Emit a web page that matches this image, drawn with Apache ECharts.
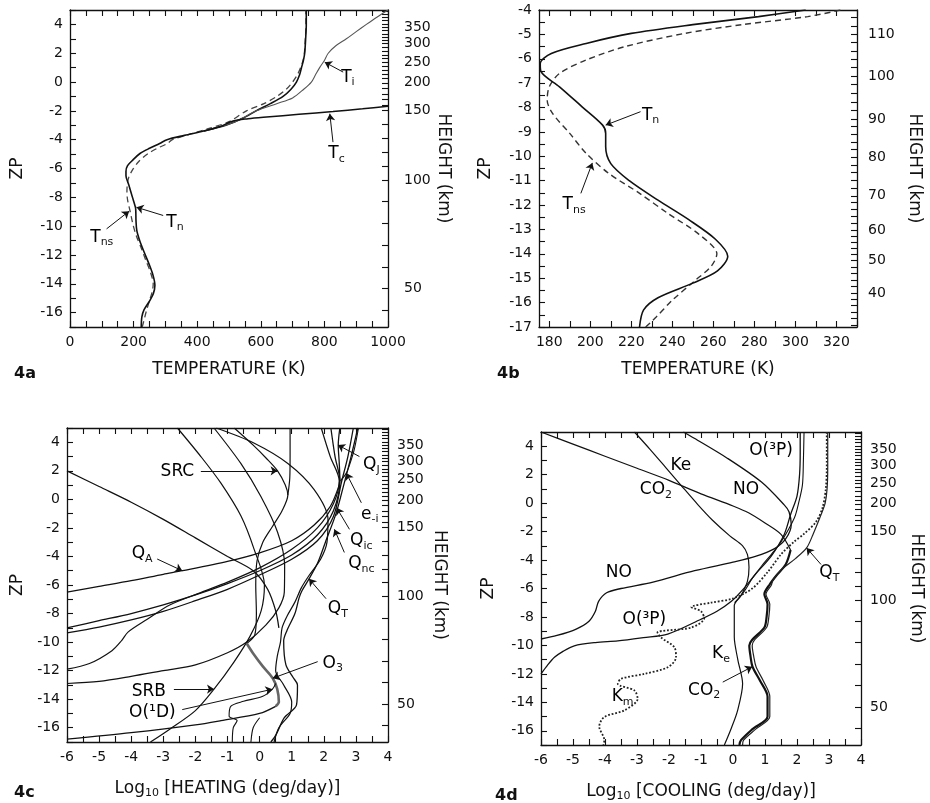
<!DOCTYPE html>
<html>
<head>
<meta charset="utf-8">
<script src="https://cdn.jsdelivr.net/npm/echarts@6/dist/echarts.min.js"></script>
<style>html,body{margin:0;background:#fff}#container{width:930px;height:803px}</style>
</head>
<body>
<div id="container"></div>
<script>
var myChart = echarts.init(document.getElementById('container'));

var INK = '#111';
var FONT = 'DejaVu Sans, Liberation Sans, sans-serif';

// height (km) tick labels of the right axes and their ZP position
var heightLabels = [50, 100, 150, 200, 250, 300, 350];
var heightZp = [-14.33, -6.8, -1.97, -0.05, 1.37, 2.66, 3.8];
var heightLabelsB = [40, 50, 60, 70, 80, 90, 100, 110];
var heightZpB = [-15.6, -14.28, -13.02, -11.62, -10.04, -8.47, -6.71, -5.0];

// 4a : temperature (K) vs ZP
var tn4a = [[224,-17],[226,-16.3],[233,-15.8],[250,-15.2],[262,-14.7],[267,-14.1],[261,-13.4],[248,-12.6],[233,-11.8],[219,-11],[210,-10.3],[207.5,-9.6],[207,-9.06],[206,-8.72],[196,-7.97],[185,-7.15],[176,-6.5],[176,-6.2],[181,-5.8],[198,-5.4],[220,-4.96],[250,-4.6],[282,-4.27],[305,-4.0],[360,-3.7],[420,-3.4],[490,-3.0],[545,-2.5],[585,-2.0],[630,-1.5],[670,-1.0],[695,-0.5],[712,0],[722,0.5],[728,1.0],[734,1.5],[738,2.0],[741,3.0],[743,4.0],[743,5.0]];
var tns4a = [[227,-17],[232,-16.6],[240,-15.9],[251,-15.1],[259,-14.5],[261.7,-14.0],[253,-13.2],[238,-12.35],[223.7,-11.5],[209,-10.7],[198,-9.88],[190,-9.06],[181.6,-8.24],[179,-7.7],[180,-7.15],[185,-6.6],[198,-6.05],[217,-5.5],[246,-4.96],[274,-4.6],[306,-4.27],[322,-4.0],[380,-3.6],[440,-3.2],[500,-2.75],[555,-2.0],[610,-1.5],[650,-1.0],[680,-0.5],[700,0],[715,0.5],[725,1.0],[733,1.5],[737,2.0],[740,3.0],[742,4.0],[742,5.0]];
var ti4a = [[420,-3.4],[470,-3.1],[520,-2.75],[586,-2.0],[650,-1.5],[700,-1.1],[735,-0.5],[759,0],[772,0.5],[785,1.0],[800,1.5],[812,2.0],[835,2.5],[869,3.0],[900,3.5],[932,4.0],[965,4.5],[1000,5.0]];
var tc4a = [[420,-3.4],[470,-3.1],[513,-2.7],[560,-2.55],[618,-2.43],[720,-2.24],[827,-2.04],[920,-1.86],[1000,-1.68]];
var notes4a = [
  ['T{s|i}', 874, 0.34, 859, 0.69, 801, 1.38],
  ['T{s|c}', 838, -4.98, 827, -4.17, 817, -2.2],
  ['T{s|n}', 330, -9.73, 293, -9.26, 209, -8.69],
  ['T{s|ns}', 100, -10.77, 115, -10.19, 186, -8.96]
];

// 4b : temperature (K) vs ZP, lower thermosphere
var tn4b = [[224,-17],[226,-16.3],[233,-15.8],[250,-15.2],[262,-14.7],[267,-14.1],[261,-13.4],[248,-12.6],[233,-11.8],[219,-11],[210,-10.3],[207.5,-9.6],[207.5,-9.06],[206,-8.72],[196,-7.97],[185,-7.15],[176,-6.53],[175.6,-6.2],[181,-5.78],[198,-5.37],[220,-4.96],[250,-4.6],[282,-4.27],[305,-4.0]];
var tns4b = [[227,-17],[232,-16.6],[240,-15.9],[251,-15.1],[259,-14.5],[261.7,-14.0],[253,-13.2],[238,-12.35],[223.7,-11.5],[209,-10.7],[198,-9.88],[190,-9.06],[181.6,-8.24],[179,-7.7],[180,-7.15],[185,-6.6],[198,-6.05],[217,-5.5],[246,-4.96],[274,-4.6],[306,-4.27],[322,-4.0]];
var notes4b = [
  ['T{s|n}', 229.4, -8.31, 224.5, -8.17, 207.5, -8.72],
  ['T{s|ns}', 192.1, -12.0, 195.4, -11.52, 201, -10.27]
];

// 4c : log10 heating (deg/day) vs ZP
var heatA = [[-6,2],[-5,0.9],[-4,-0.2],[-3,-1.4],[-2,-2.7],[-1,-4.0],[-0.2,-5.0],[0.25,-6.3],[0.5,-7.8],[0.6,-9.0]];
var heatQA = [[-6,-6.5],[-5,-6.1],[-4,-5.7],[-3,-5.25],[-2.4,-5.0],[-1,-4.35],[0,-3.75],[1,-2.9],[1.7,-1.8],[2.2,-0.5],[2.45,0.8],[2.5,1.4],[2.48,2.6],[2.45,3.8],[2.5,5]];
var heatB = [[-6,-9.0],[-5,-8.5],[-4,-8.0],[-3,-7.4],[-2,-6.7],[-1,-5.9],[0,-5.0],[1,-3.9],[1.8,-2.5],[2.3,-0.8],[2.5,1.3],[2.35,3.0],[2.22,5]];
var heatC = [[-6,-9.35],[-5,-8.95],[-4,-8.45],[-3,-7.85],[-2,-7.1],[-1,-6.3],[0,-5.3],[1,-4.2],[1.8,-2.9],[2.3,-1.2],[2.55,1.2],[2.75,3.0],[2.92,5]];
var heatD = [[-6,-11.9],[-5.3,-11.5],[-4.6,-10.6],[-4.3,-9.9],[-4.1,-9.3],[-3.5,-8.4],[-2.8,-7.4],[-1.8,-6.5],[-1,-5.8],[0,-4.8],[1,-3.5],[1.8,-2.0],[2.3,-0.3],[2.48,1.3],[2.2,3.0],[1.92,5]];
var heatE = [[-6,-12.9],[-5,-12.75],[-4,-12.4],[-3,-12.0],[-2,-11.6],[-1,-10.75],[-0.4,-10.0],[0.2,-8.8],[0.6,-7.6],[0.77,-6.5],[0.78,-4.6],[0.56,-2.3],[0.04,0.2],[-0.58,2.5],[-1.42,5]];
var heatSRB = [[-3.4,-17],[-2.8,-16.1],[-2,-14.8],[-1.42,-13.3],[-0.8,-11.4],[-0.3,-9.6],[0.05,-7.8],[0.15,-6.0],[-0.17,-3.5],[-0.58,-1.17],[-1.21,1.15],[-1.83,3.0],[-2.56,5]];
var heatSRC = [[-0.79,5],[-0.2,3.8],[0.2,2.9],[0.56,2.0],[0.8,1.0],[0.88,0.3],[0.7,-0.8],[0.4,-1.9],[0.1,-3.0],[-0.08,-4.3],[-0.12,-6],[-0.1,-8],[-0.15,-9.5],[-0.4,-10.1]];
var heatV = [[0.95,5],[0.95,3],[0.94,1.5],[0.88,0.3]];
var heatArc = [[-1.35,5],[-0.18,3.95],[0.89,2.5],[1.7,0.68],[2.13,-1.4],[2.1,-3.0],[1.9,-4.2],[1.55,-5.3],[1.3,-6.2],[1.1,-7.2],[0.85,-8.2],[0.7,-9.0],[0.65,-10],[0.55,-11],[0.5,-12],[0.75,-13],[1.0,-14.2],[0.95,-15],[0.6,-16],[0.45,-17]];
var heatQT = [[3.06,5],[2.85,3],[2.62,1],[2.38,-1],[2.05,-3],[1.8,-4.5],[1.54,-5.57],[1.32,-6.4],[1.23,-6.9],[1.1,-8],[0.85,-9.2],[0.75,-9.9],[0.82,-11.6],[1.05,-12.5],[1.18,-13.0],[1.15,-14.4],[0.77,-15.3],[0.51,-16.5],[0.35,-17]];
var heatEI = [[3.08,5],[2.95,3.5],[2.8,2.4],[2.7,1.84],[2.52,1.3]];
var heatO3 = [[-0.4,-10.1],[-0.2,-10.8],[0.1,-11.7],[0.41,-12.53],[0.55,-13.3],[0.6,-14.2],[0.5,-14.5]];
var heatO1D = [[-6,-16.8],[-4,-16.35],[-2,-15.8],[-1.2,-15.5],[0,-15.0],[0.5,-14.5]];
var heatLoop = [[-0.85,-17],[-0.82,-16],[-0.7,-15.5],[-0.95,-15.2],[-0.9,-14.5],[-0.5,-14.15],[0.1,-13.8],[0.4,-13.3],[0.5,-12.9]];
var heatBot = [[-0.27,-17],[-0.2,-16],[0.0,-15.3]];
var notes4c = [
  ['SRC', -2.56, 1.96, -1.83, 2.0, 0.56, 2.0],
  ['Q{s|A}', -3.66, -3.83, -3.19, -4.18, -2.41, -5.0],
  ['Q{s|J}', 3.48, 2.42, 3.11, 3.0, 2.44, 3.81],
  ['e{s|-i}', 3.43, -1.05, 3.17, -0.24, 2.7, 1.84],
  ['Q{s|ic}', 3.17, -2.91, 2.8, -2.1, 2.4, -0.59],
  ['Q{s|nc}', 3.17, -4.53, 2.64, -3.72, 2.33, -2.1],
  ['Q{s|T}', 2.44, -7.66, 2.07, -6.96, 1.54, -5.57],
  ['O{s|3}', 2.28, -11.48, 1.81, -11.37, 0.41, -12.53],
  ['SRB', -3.45, -13.45, -2.67, -13.29, -1.42, -13.29],
  ['O(¹D)', -3.34, -14.96, -2.41, -14.73, 0.4, -13.3]
];

// 4d : log10 cooling (deg/day) vs ZP
var coolCO2Up = [[-6,5],[-5,4.15],[-4,3.3],[-3,2.45],[-2,1.6],[-1,0.65],[0,-0.2],[0.5,-0.7],[1.0,-1.4],[1.5,-2.2],[1.8,-3.3]];
var coolCO2Low = [[1.8,-3.3],[1.65,-4.3],[1.35,-5.1],[1.15,-5.7],[0.98,-6.4],[1.08,-7.1],[1.05,-8.0],[0.98,-8.74],[0.6,-9.6],[0.51,-10.0],[0.55,-10.8],[0.61,-11.5],[0.85,-12.5],[1.08,-13.6],[1.08,-15.0],[0.6,-15.9],[0.25,-16.66],[0.2,-17]];
var coolKe = [[-3.08,5],[-2.6,3.8],[-2.1,2.5],[-1.63,1.27],[-1.1,-0.1],[-0.64,-1.2],[-0.1,-2.3],[0.3,-3.0],[0.45,-3.6],[0.5,-4.5],[0.45,-5.5],[0.25,-6.5],[0.04,-7.2],[0.04,-8.5],[0.04,-9.4],[0.15,-11],[0.3,-12.7],[0.14,-14.6],[-0.05,-15.8],[-0.27,-17]];
var coolNO = [[-6,-9.55],[-5.5,-9.3],[-4.9,-8.85],[-4.5,-8.3],[-4.3,-7.6],[-4.2,-6.9],[-3.95,-6.3],[-3.5,-6.0],[-2.5,-5.55],[-1.2,-4.75],[0,-4.15],[0.7,-3.75],[1.3,-3.2],[1.65,-2.5],[1.82,-1.5],[1.75,-0.6],[1.6,-0.12],[0.89,1.48],[-0.18,3.16],[-1.21,4.56],[-1.55,5]];
var coolO3P = [[-6,-12.0],[-5.8,-11.4],[-5.58,-10.84],[-5.3,-10.4],[-4.96,-10.03],[-4.3,-9.8],[-3.6,-9.68],[-2.8,-9.45],[-2.04,-9.2],[-1.0,-8.16],[-0.5,-7.6],[-0.05,-6.9],[0.3,-6.1],[0.7,-5.0],[1.2,-3.7],[1.6,-2.2],[1.8,-0.8],[2.0,0.5],[2.08,2.0],[2.1,3.5],[2.1,5]];
var coolX = [[2.22,5],[2.2,3],[2.17,1.28],[2.05,0],[1.92,-1.03],[1.51,-2.7],[1.2,-3.6],[0.9,-4.4],[0.6,-5.3],[0.35,-6.2],[0.05,-7.0]];
var coolQT = [[2.96,5],[2.96,2.5],[2.94,1.0],[2.88,0.0],[2.75,-0.82],[2.5,-2.2],[2.3,-3.15],[1.95,-3.9],[1.5,-4.7],[1.25,-5.4],[1.2,-5.75],[1.03,-6.4],[1.15,-7.1],[1.12,-8.0],[1.05,-8.74],[0.68,-9.6],[0.6,-10.0],[0.65,-10.8],[0.72,-11.5],[0.95,-12.5],[1.15,-13.6],[1.15,-15.0],[0.7,-15.9],[0.33,-16.66],[0.3,-17]];
var coolKm = [[2.93,5],[2.93,2.5],[2.9,1],[2.8,-0.3],[2.6,-1.3],[2.2,-2.2],[1.92,-2.69],[1.5,-3.6],[1.1,-4.8],[0.6,-6.0],[0.0,-6.7],[-0.7,-7.0],[-1.3,-7.3],[-1.0,-7.6],[-0.9,-8.1],[-1.3,-8.74],[-2.36,-9.09],[-2.25,-9.44],[-1.83,-10.14],[-1.78,-10.84],[-2.04,-11.54],[-2.77,-12.0],[-3.5,-12.35],[-3.6,-12.7],[-3.08,-13.17],[-2.98,-13.75],[-3.4,-14.57],[-4.02,-15.03],[-4.18,-15.7],[-4.02,-16.66],[-4.05,-17]];
var notes4d = [
  ['O(³P)', 1.19, 3.72],
  ['Ke', -1.63, 2.67],
  ['CO{s|2}', -2.41, 0.93],
  ['NO', 0.41, 0.93],
  ['NO', -3.57, -4.9],
  ['O(³P)', -2.77, -8.16],
  ['K{s|e}', -0.375, -10.6],
  ['K{s|m}', -3.45, -13.63],
  ['CO{s|2}', -0.9, -13.16, -0.32, -12.58, 0.6, -11.5],
  ['Q{s|T}', 3.01, -4.9, 2.75, -4.31, 2.3, -3.15]
];

function interp(h, H, Z) {
  var i = 0;
  while (i < H.length - 2 && h > H[i + 1]) i++;
  return Z[i] + (h - H[i]) * (Z[i + 1] - Z[i]) / (H[i + 1] - H[i]);
}
function heightTicks(H, Z, from, to, step, min, max) {
  var out = [];
  for (var h = from; h <= to; h += step) {
    var z = interp(h, H, Z);
    if (z > min && z < max) out.push(z);
  }
  return out;
}

var rich = {s: {fontSize: 11, padding: [10, 0, 0, 0], color: INK, fontFamily: FONT, textBorderWidth: 0}};
var tick = {show: true, inside: true, length: 6, lineStyle: {color: INK, width: 1.1}};
var line = {show: true, onZero: false, lineStyle: {color: INK, width: 1.3}};

function xPair(g, o) {
  var base = {type: 'value', gridIndex: g, min: o.min, max: o.max, splitLine: {show: false}, axisLine: line};
  if (o.interval) base.interval = o.interval;
  var t = Object.assign({}, tick);
  var lab = {color: INK, fontSize: 14, fontFamily: FONT, margin: 8, formatter: o.fmt};
  if (o.ticks) { t.customValues = o.ticks; lab.customValues = o.labels; }
  return [
    Object.assign({}, base, {position: 'bottom', axisTick: t, axisLabel: lab, name: o.name,
      nameLocation: 'middle', nameGap: o.gap,
      nameTextStyle: {color: INK, fontSize: 17, fontFamily: FONT, rich: rich}}),
    Object.assign({}, base, {position: 'top', axisTick: t, axisLabel: {show: false}})
  ];
}

function yPair(g, o) {
  var base = {type: 'value', gridIndex: g, min: o.min, max: o.max, splitLine: {show: false}, axisLine: line};
  var left = Object.assign({}, base, {position: 'left', interval: o.interval, axisTick: tick,
    axisLabel: {color: INK, fontSize: 14, fontFamily: FONT, margin: 7, formatter: o.fmt},
    name: 'ZP', nameLocation: 'middle', nameRotate: 90, nameGap: o.zpGap,
    nameTextStyle: {color: INK, fontSize: 17, fontFamily: FONT}});
  var right = Object.assign({}, base, {position: 'right',
    axisTick: Object.assign({}, tick, {customValues: o.minor}),
    axisLabel: {color: INK, fontSize: 14, fontFamily: FONT, margin: o.hMargin, customValues: o.Z,
      formatter: function (v) {
        for (var i = 0; i < o.Z.length; i++) if (Math.abs(o.Z[i] - v) < 1e-6) return o.H[i];
        return '';
      }},
    name: 'HEIGHT (km)', nameLocation: 'middle', nameRotate: -90, nameGap: o.hGap,
    nameTextStyle: {color: INK, fontSize: 17, fontFamily: FONT}});
  return [left, right];
}

function curve(g, data, color, width, type) {
  return {type: 'line', xAxisIndex: 2 * g, yAxisIndex: 2 * g, data: data, showSymbol: false, symbol: 'none',
    smooth: 0.3, silent: true, animation: false,
    lineStyle: {color: color, width: width, type: type || 'solid'}};
}

function notes(g, arr) {
  return {type: 'scatter', xAxisIndex: 2 * g, yAxisIndex: 2 * g, symbolSize: 1, silent: true, animation: false,
    itemStyle: {color: '#fff', opacity: 1},
    data: arr.map(function (a) { return {value: [a[1], a[2]], label: {formatter: a[0]}}; }),
    label: {show: true, position: 'inside', color: '#000', fontSize: 17, fontFamily: FONT,
      textBorderWidth: 0, textBorderColor: 'transparent', rich: rich},
    markLine: {silent: true, animation: false, symbol: ['none', 'arrow'], symbolSize: 7, precision: 4,
      label: {show: false}, lineStyle: {color: INK, width: 1, type: 'solid', opacity: 1},
      data: arr.filter(function (a) { return a.length > 3; }).map(function (a) {
        return [{coord: [a[3], a[4]]}, {coord: [a[5], a[6]]}];
      })}
  };
}

var evenFmt = function (v) { return Math.round(v) % 2 === 0 ? String(Math.round(v)) : ''; };
var intFmt = function (v) { return Math.abs(v - Math.round(v)) < 1e-6 ? String(Math.round(v)) : ''; };

var xa = xPair(0, {min: 0, max: 1000, interval: 50, name: 'TEMPERATURE (K)', gap: 34,
  fmt: function (v) { return v % 200 === 0 ? String(v) : ''; }});
var xb = xPair(1, {min: 175, max: 330, name: 'TEMPERATURE (K)', gap: 34,
  ticks: [180,190,200,210,220,230,240,250,260,270,280,290,300,310,320,330],
  labels: [180,200,220,240,260,280,300,320], fmt: function (v) { return String(v); }});
var xc = xPair(2, {min: -6, max: 4, interval: 0.5, name: 'Log{s|10} [HEATING (deg/day)]', gap: 36, fmt: intFmt});
var xd = xPair(3, {min: -6, max: 4, interval: 0.5, name: 'Log{s|10} [COOLING (deg/day)]', gap: 36, fmt: intFmt});

var minorA = heightTicks(heightLabels, heightZp, 30, 400, 10, -17, 5);
var minorB = heightTicks(heightLabelsB, heightZpB, 30, 118, 2, -17, -4);
var ya = yPair(0, {min: -17, max: 5, interval: 1, fmt: evenFmt, H: heightLabels, Z: heightZp, minor: minorA,
  zpGap: 44, hGap: 44, hMargin: 16});
var yb = yPair(1, {min: -17, max: -4, interval: 0.5, fmt: intFmt, H: heightLabelsB, Z: heightZpB, minor: minorB,
  zpGap: 45, hGap: 49, hMargin: 11});
var yc = yPair(2, {min: -17, max: 5, interval: 1, fmt: evenFmt, H: heightLabels, Z: heightZp, minor: minorA,
  zpGap: 41, hGap: 43, hMargin: 9});
var yd = yPair(3, {min: -17, max: 5, interval: 1, fmt: evenFmt, H: heightLabels, Z: heightZp, minor: minorA,
  zpGap: 44, hGap: 47, hMargin: 9});

var panelTitle = {fontSize: 16, fontWeight: 'bold', color: INK, fontFamily: FONT};

var option = {
  backgroundColor: '#fff',
  animation: false,
  title: [
    {text: '4a', left: 9, top: 361, textStyle: panelTitle},
    {text: '4b', left: 492, top: 361, textStyle: panelTitle},
    {text: '4c', left: 9, top: 780, textStyle: panelTitle},
    {text: '4d', left: 490, top: 783, textStyle: panelTitle}
  ],
  grid: [
    {left: 70, top: 10, width: 318, height: 317},
    {left: 539, top: 10, width: 318, height: 317},
    {left: 67, top: 428, width: 321, height: 314},
    {left: 541, top: 432, width: 320, height: 314}
  ],
  xAxis: xa.concat(xb, xc, xd),
  yAxis: ya.concat(yb, yc, yd),
  series: [
    curve(0, tns4a, '#444', 1.3, [6, 4]),
    curve(0, tn4a, '#111', 1.6),
    curve(0, ti4a, '#555', 1.1),
    curve(0, tc4a, '#111', 1.5),
    notes(0, notes4a),

    curve(1, tns4b, '#333', 1.4, [6, 4]),
    curve(1, tn4b, '#111', 1.6),
    notes(1, notes4b),

    curve(2, heatA, '#111', 1.3),
    curve(2, heatQA, '#111', 1.3),
    curve(2, heatB, '#111', 1.3),
    curve(2, heatC, '#111', 1.3),
    curve(2, heatD, '#111', 1.2),
    curve(2, heatE, '#111', 1.2),
    curve(2, heatSRB, '#111', 1.2),
    curve(2, heatSRC, '#111', 1.2),
    curve(2, heatV, '#111', 1.2),
    curve(2, heatArc, '#111', 1.2),
    curve(2, heatQT, '#111', 1.3),
    curve(2, heatEI, '#111', 1.1),
    curve(2, heatO3, '#666', 2.6),
    curve(2, heatO1D, '#111', 1.3),
    curve(2, heatLoop, '#111', 1.1),
    curve(2, heatBot, '#111', 1.1),
    notes(2, notes4c),

    curve(3, coolCO2Up, '#111', 1.2),
    curve(3, coolCO2Low, '#111', 2.2),
    curve(3, coolQT, '#222', 1.2),
    curve(3, coolKe, '#111', 1.2),
    curve(3, coolNO, '#111', 1.3),
    curve(3, coolO3P, '#111', 1.3),
    curve(3, coolX, '#111', 1.1),
    curve(3, coolKm, '#222', 1.8, 'dotted'),
    notes(3, notes4d)
  ]
};

myChart.setOption(option);
</script>
</body>
</html>
